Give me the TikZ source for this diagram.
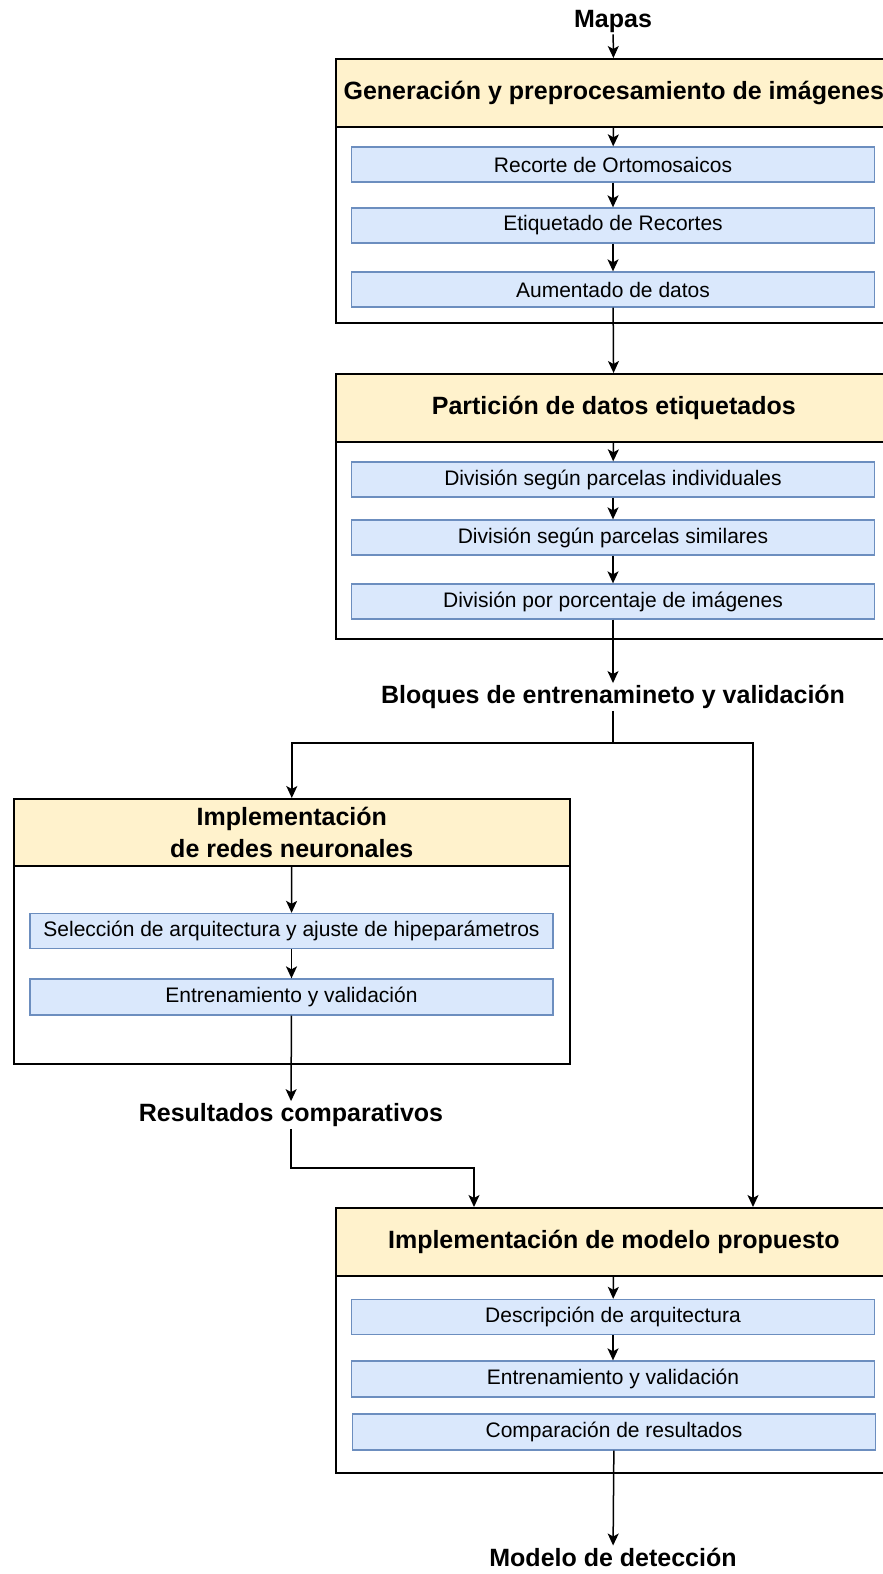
\documentclass[tikz,border=0pt]{standalone}
\usepackage{fontspec}
\setmainfont{Liberation Sans}
\usetikzlibrary{arrows.meta}
\definecolor{headfill}{HTML}{FFF2CC}
\definecolor{stepfill}{HTML}{DAE8FC}
\definecolor{stepline}{HTML}{6C8EBF}
\tikzset{stage/.style={draw, line width=1.6pt, minimum width=556pt, anchor=north west, inner sep=0pt},
         head/.style={stage, fill=headfill, minimum height=68pt, font=\bfseries\fontsize{25}{32}\selectfont, align=center},
         stepbox/.style={draw=stepline, fill=stepfill, line width=1.3pt, minimum width=523pt, minimum height=35pt, inner sep=0pt, font=\fontsize{21}{24}\selectfont},
         outtext/.style={font=\bfseries\fontsize{25}{28}\selectfont, inner sep=2pt},
         arr/.style={-{Stealth[length=12pt,width=11pt,inset=3pt]}, line width=1.5pt}}

\begin{document}
\begin{tikzpicture}[x=1pt,y=-1pt]
  \useasboundingbox (0,0) rectangle (883,1574);
  % generacion
  \node[outtext] (mapas) at (613,21) {Mapas};
  \node[stage, minimum height=264pt] (gen) at (335,58) {};
  \node[head] (genh) at (335,58) {Generación y preprocesamiento de imágenes};
  \node[stepbox] (rec) at (613,164.5) {Recorte de Ortomosaicos};
  \node[stepbox] (etq) at (613,225.5) {Etiquetado de Recortes};
  \node[stepbox] (aum) at (613,289.5) {Aumentado de datos};
  \draw[arr] (mapas) -- (genh);
  \draw[arr] (genh) -- (rec);
  \draw[arr] (rec) -- (etq);
  \draw[arr] (etq) -- (aum);
  % particion
  \node[stage, minimum height=265pt] (part) at (335,373) {};
  \node[head] (parth) at (335,373) {Partición de datos etiquetados};
  \node[stepbox] (ind) at (613,479.5) {División según parcelas individuales};
  \node[stepbox] (sim) at (613,537.5) {División según parcelas similares};
  \node[stepbox] (por) at (613,601.5) {División por porcentaje de imágenes};
  \node[outtext] (bloq) at (613,697) {Bloques de entrenamineto y validación};
  \draw[arr] (aum) -- (parth);
  \draw[arr] (parth) -- (ind);
  \draw[arr] (ind) -- (sim);
  \draw[arr] (sim) -- (por);
  \draw[arr] (por) -- (bloq);
  % redes neuronales
  \node[stage, minimum height=265pt] (red) at (13,798) {};
  \node[head, minimum height=67pt] (redh) at (13,798) {Implementación\\de redes neuronales};
  \node[stepbox] (sel) at (291.5,931) {Selección de arquitectura y ajuste de hipeparámetros};
  \node[stepbox, minimum height=36pt] (ent) at (291.5,997) {Entrenamiento y validación};
  \node[outtext] (res) at (291,1115) {Resultados comparativos};
  \draw[arr] (redh) -- (sel);
  \draw[arr] (sel) -- (ent);
  \draw[arr] (ent) -- (res);
  % modelo propuesto
  \node[stage, minimum height=265pt] (mod) at (335,1207) {};
  \node[head] (modh) at (335,1207) {Implementación de modelo propuesto};
  \node[stepbox] (desc) at (613,1317) {Descripción de arquitectura};
  \node[stepbox, minimum height=36pt] (ent2) at (613,1379) {Entrenamiento y validación};
  \node[stepbox, minimum height=36pt] (comp) at (614,1432) {Comparación de resultados};
  \node[outtext] (det) at (613,1557) {Modelo de detección};
  \draw[arr] (modh) -- (desc);
  \draw[arr] (desc) -- (ent2);
  \draw[arr] (comp) -- (det);
  % conexiones
  \coordinate (split) at (613,743);
  \coordinate (rightin) at (753,1207);
  \coordinate (bend) at (474,1168);
  \coordinate (leftin) at (474,1207);
  \draw[line width=1.5pt] (bloq) -- (split);
  \draw[arr] (split) -| (redh);
  \draw[arr] (split) -| (rightin);
  \draw[arr] (res) |- (bend) -- (leftin);
\end{tikzpicture}
\end{document}
